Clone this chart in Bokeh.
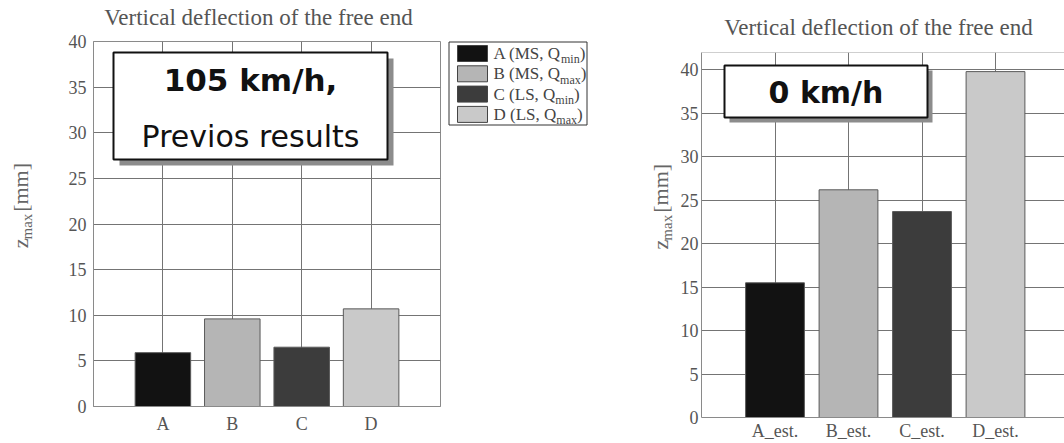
import math
from bokeh.plotting import figure
from bokeh.models import Range1d, FixedTicker, Span, Spacer
from bokeh.layouts import row, column
from bokeh.embed import file_html
from bokeh.resources import INLINE
from bokeh.core.properties import value

# ---------------- data ----------------
chart_title = "Vertical deflection of the free end"
left_categories = ["A", "B", "C", "D"]
left_values = [5.9, 9.6, 6.5, 10.7]
right_categories = ["A_est.", "B_est.", "C_est.", "D_est."]
right_values = [15.5, 26.2, 23.7, 39.8]
bar_colors = ["#121212", "#b5b5b5", "#3c3c3c", "#c9c9c9"]
y_ticks = [0, 5, 10, 15, 20, 25, 30, 35, 40]
legend_main = ["A (MS, Q", "B (MS, Q", "C (LS, Q", "D (LS, Q"]
legend_sub = ["min", "max", "min", "max"]
left_box_lines = ["105 km/h,", "Previos results"]
right_box_lines = ["0 km/h"]
y_label_main = "z"
y_label_sub = "max"
y_label_unit = "[mm]"

SERIF_NAME = "Liberation Serif"
SERIF = value(SERIF_NAME)
SANS = value("DejaVu Sans")
GRAY_TXT = "#555555"
GRID = "#747474"
BASE_K = 0.35   # text glyphs are anchored at mid-height: shift to place the baseline

TIMES_W = {'A': .722, 'B': .667, 'C': .667, 'D': .722, ' ': .25, '(': .333, ')': .333,
           'M': .889, 'S': .556, 'L': .611, ',': .25, 'Q': .722, 'm': .778, 'i': .278,
           'n': .5, 'a': .444, 'x': .5, 'z': .444, '[': .333, ']': .333}


def tw(s, size):
    return sum(TIMES_W.get(c, .5) for c in s) * size


def strip(x0, y0, w, h):
    """A blank figure whose data coordinates are page pixels (y negated)."""
    p = figure(width=w, height=h, output_backend="svg", toolbar_location=None, title=None,
               x_range=Range1d(x0, x0 + w), y_range=Range1d(-(y0 + h), -y0),
               x_axis_type=None, y_axis_type=None,
               min_border_left=0, min_border_right=0, min_border_top=0, min_border_bottom=0,
               background_fill_color="white", border_fill_color="white")
    p.outline_line_color = None
    for g in p.grid:
        g.visible = False
    return p


class Geo:
    """Maps page pixels to a chart's data coordinates (frame known)."""
    def __init__(self, left, top, w, h, x0, x1, y0, y1):
        self.left, self.top, self.w, self.h = left, top, w, h
        self.x0, self.x1, self.y0, self.y1 = x0, x1, y0, y1

    def x(self, px):
        return self.x0 + (px - self.left) / self.w * (self.x1 - self.x0)

    def y(self, py):
        return self.y1 - (py - self.top) / self.h * (self.y1 - self.y0)


def make_chart(categories, values, width, height, bl, br, bt, bb, x_end, y_end, outline,
               y_standoff, x_standoff):
    p = figure(width=width, height=height, output_backend="svg", toolbar_location=None,
               title=None,
               x_range=Range1d(-1, x_end), y_range=Range1d(0, y_end),
               min_border_left=bl, min_border_right=br, min_border_top=bt, min_border_bottom=bb,
               background_fill_color="white", border_fill_color="white")
    idx = list(range(len(categories)))
    p.vbar(x=idx, top=values, width=0.8, bottom=0, fill_color=bar_colors,
           line_color="#5a5a5a", line_width=1)
    p.xaxis.ticker = FixedTicker(ticks=idx)
    p.xaxis.major_label_overrides = {i: c for i, c in zip(idx, categories)}
    p.yaxis.ticker = FixedTicker(ticks=y_ticks)
    for ax in (p.xaxis, p.yaxis):
        ax.major_tick_line_color = None
        ax.minor_tick_line_color = None
        ax.major_tick_out = 0
        ax.major_tick_in = 0
        ax.axis_line_color = "#8a8a8a"
        ax.major_label_text_font = SERIF_NAME
        ax.major_label_text_font_size = "18px"
        ax.major_label_text_color = GRAY_TXT
    p.yaxis.major_label_standoff = y_standoff
    p.xaxis.major_label_standoff = x_standoff
    p.xgrid.grid_line_color = GRID
    p.ygrid.grid_line_color = GRID
    p.xgrid.ticker = FixedTicker(ticks=idx)
    p.ygrid.ticker = FixedTicker(ticks=y_ticks)
    if outline:
        p.outline_line_color = "#8a8a8a"
    else:
        p.outline_line_color = None
        p.add_layout(Span(location=y_end, dimension="width", line_color="#a0a0a0", line_width=1))
    return p


def add_box(p, g, l, t, r, b, shadow, lines):
    p.quad(left=[g.x(l + shadow)], right=[g.x(r + shadow)], top=[g.y(t + shadow)],
           bottom=[g.y(b + shadow)], fill_color="#8c8c8c", line_color=None)
    p.quad(left=[g.x(l)], right=[g.x(r)], top=[g.y(t)], bottom=[g.y(b)],
           fill_color="white", line_color="#111111", line_width=2)
    for (txt, by, size, bold) in lines:
        p.text(x=[g.x((l + r) / 2)], y=[g.y(by - BASE_K * size)], text=[txt],
               text_align="center", text_baseline="alphabetic", text_font=SANS,
               text_font_size=f"{size}px",
               text_font_style="bold" if bold else "normal", text_color="#111111")


def add_title(s, cx, by, size=23):
    s.text(x=[cx], y=[-(by - BASE_K * size)], text=[chart_title], text_align="center",
           text_baseline="alphabetic", text_font=SERIF, text_font_size=f"{size}px",
           text_color=GRAY_TXT)


def add_ylabel(s, bx, sy, size):
    sub_size = size * 0.68
    kw = dict(angle=math.pi / 2, text_align="left", text_baseline="alphabetic",
              text_font=SERIF, text_color="#666666")
    s.text(x=[bx - BASE_K * size], y=[-sy], text=[y_label_main],
           text_font_size=f"{size}px", **kw)
    s2 = sy - tw(y_label_main, size)
    s.text(x=[bx + 4 - BASE_K * sub_size], y=[-s2], text=[y_label_sub],
           text_font_size=f"{sub_size:.1f}px", **kw)
    s3 = s2 - tw(y_label_sub, sub_size) - 5
    s.text(x=[bx - BASE_K * size], y=[-s3], text=[y_label_unit],
           text_font_size=f"{size}px", **kw)


# ---------------- left block (page x 0..441) ----------------
title_l = strip(0, 0, 441, 30)
add_title(title_l, 258, 25)
ylab_l = strip(0, 30, 61, 406)
add_ylabel(ylab_l, 28, 260, 22)
# chart: page x 61..441, y 30..436 ; frame x 93..440, y 41..406
chart_l = make_chart(left_categories, left_values, 380, 406, 32, 1, 11, 30, 4, 40, True, 7, 7)
gl = Geo(93, 41, 347, 365, -1, 4, 0, 40)
add_box(chart_l, gl, 113, 52, 387, 159, 6,
        [(left_box_lines[0], 90, 31, True), (left_box_lines[1], 146, 30, False)])
block_l = column(title_l, row(ylab_l, chart_l, spacing=0), Spacer(width=441, height=7),
                 spacing=0)

# ---------------- legend (page x 441..595) ----------------
pleg = strip(441, 0, 154, 443)
pleg.quad(left=[448.5], right=[586.5], top=[-41.5], bottom=[-124.5], fill_color="white",
          line_color="#333333", line_width=1)
n = len(legend_main)
row_top = [45 + i * 20.3 for i in range(n)]
pleg.quad(left=[457] * n, right=[487] * n, top=[-t for t in row_top],
          bottom=[-(t + 16) for t in row_top],
          fill_color=bar_colors, line_color="#444444", line_width=1)
MS, SS = 17, 12
base = [t + 14 for t in row_top]
pleg.text(x=[493] * n, y=[-(b - BASE_K * MS) for b in base], text=legend_main, text_font=SERIF,
          text_font_size=f"{MS}px", text_color="#444444", text_baseline="alphabetic")
sub_x = [493 + tw(m, MS) for m in legend_main]
pleg.text(x=sub_x, y=[-(b + 4 - BASE_K * SS) for b in base], text=legend_sub, text_font=SERIF,
          text_font_size=f"{SS}px", text_color="#444444", text_baseline="alphabetic")
close_x = [sx + tw(s, SS) for sx, s in zip(sub_x, legend_sub)]
pleg.text(x=close_x, y=[-(b - BASE_K * MS) for b in base], text=[")"] * n, text_font=SERIF,
          text_font_size=f"{MS}px", text_color="#444444", text_baseline="alphabetic")

# ---------------- right block (page x 595..1064) ----------------
title_r = strip(595, 0, 469, 41)
add_title(title_r, 878, 35)
ylab_r = strip(595, 41, 81, 402)
add_ylabel(ylab_r, 668, 258, 22)
r_xend = -1 + 363 / 73.5
# chart: page x 676..1064, y 41..443 ; frame x 701..1064, y 52..417
chart_r = make_chart(right_categories, right_values, 388, 402, 25, 0, 11, 26, r_xend, 42, False,
                     3, 3)
gr = Geo(701, 52, 363, 365, -1, r_xend, 0, 42)
add_box(chart_r, gr, 724, 65, 927, 117, 5, [(right_box_lines[0], 102, 30, True)])
block_r = column(title_r, row(ylab_r, chart_r, spacing=0), spacing=0)

layout = row(block_l, pleg, block_r, spacing=0)
open("out.html", "w").write(file_html(layout, INLINE))
